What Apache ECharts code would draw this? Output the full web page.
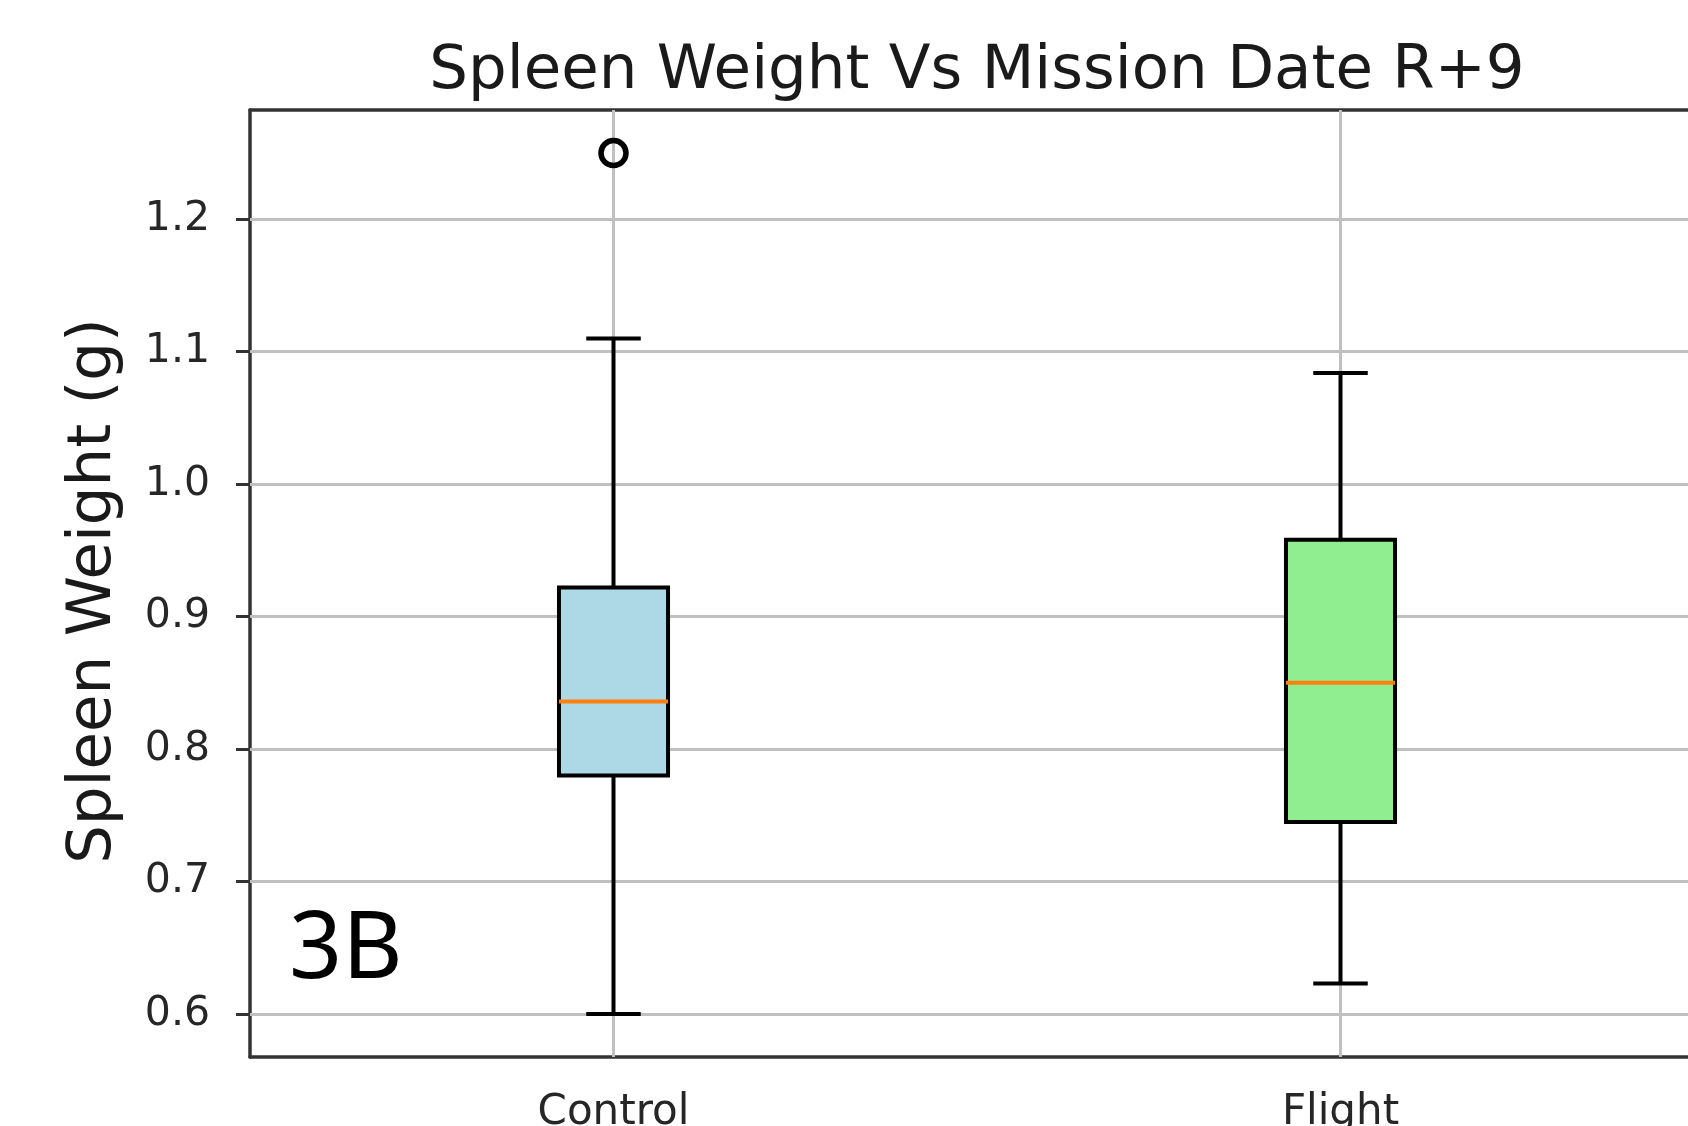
<!DOCTYPE html>
<html>
<head>
<meta charset="utf-8">
<title>Spleen Weight Vs Mission Date R+9</title>
<script src="https://cdn.jsdelivr.net/npm/echarts@6/dist/echarts.min.js"></script>
<style>
  html, body { margin: 0; padding: 0; background: #fff; }
  #chart { width: 1688px; height: 1126px; }
</style>
</head>
<body>
<div id="chart"></div>
<script>
// groups and box stats: [low whisker, q1, median, q3, high whisker]
const categories = ['Control', 'Flight'];
const controlStats = [0.600, 0.780, 0.836, 0.922, 1.110];
const flightStats = [0.623, 0.745, 0.850, 0.958, 1.084];
const controlOutliers = [1.25];
const yTicks = [0.6, 0.7, 0.8, 0.9, 1.0, 1.1, 1.2];
const boxColors = ['#add8e6', '#90ee90'];

const yMin = 0.5675;
const yMax = 1.2825;
const font = 'DejaVu Sans';

let chart = echarts.init(document.getElementById('chart'));

let boxData = [
  [0].concat(controlStats),
  [1].concat(flightStats)
];

let option = {
  backgroundColor: '#fff',
  animation: false,
  title: {
    text: 'Spleen Weight Vs Mission Date R+9',
    left: 977,
    top: 42,
    padding: 0,
    textAlign: 'center',
    textStyle: { fontFamily: font, fontSize: 61, fontWeight: 'normal', color: '#1a1a1a' }
  },
  graphic: [
    {
      type: 'text',
      left: 289,
      top: 905,
      style: { text: '3B', fontFamily: 'Noto Sans', fontSize: 93, fill: '#000' }
    }
  ],
  // plot runs past the right edge of the canvas, like the cropped original
  grid: { left: 250, top: 110, width: 1454, height: 947, outerBoundsMode: 'none', containLabel: false },
  xAxis: [
    {
      type: 'category',
      data: categories,
      axisLine: { lineStyle: { color: '#333', width: 3.5 } },
      axisTick: { alignWithLabel: true, length: 16, lineStyle: { color: '#333', width: 3 } },
      axisLabel: { margin: 35, fontFamily: font, fontSize: 42, color: '#262626' },
      splitLine: { show: false }
    },
    {
      type: 'category',
      position: 'top',
      data: categories,
      axisLine: { lineStyle: { color: '#333', width: 3.5 } },
      axisTick: { show: false },
      axisLabel: { show: false }
    }
  ],
  yAxis: {
    type: 'value',
    min: yMin,
    max: yMax,
    name: 'Spleen Weight (g)',
    nameLocation: 'middle',
    nameGap: 125,
    nameTextStyle: { fontFamily: font, fontSize: 61, color: '#1a1a1a', padding: [0, 15, 0, 0] },
    axisLine: { show: true, lineStyle: { color: '#333', width: 3.5 } },
    axisTick: { show: true, length: 14, customValues: yTicks, lineStyle: { color: '#333', width: 3 } },
    axisLabel: {
      margin: 40,
      customValues: yTicks,
      fontFamily: font,
      fontSize: 41,
      color: '#262626',
      formatter: v => v.toFixed(1)
    },
    splitLine: { show: false }
  },
  series: [
    {
      // grid lines, drawn under the boxes
      type: 'line',
      data: [],
      z: 1,
      silent: true,
      markLine: {
        z: 1,
        silent: true,
        symbol: 'none',
        label: { show: false },
        lineStyle: { color: '#c0c0c0', width: 3, type: 'solid' },
        data: yTicks.map(v => ({ yAxis: v })).concat(categories.map(c => ({ xAxis: c })))
      }
    },
    {
      type: 'custom',
      z: 10,
      data: boxData,
      encode: { x: 0, y: [1, 2, 3, 4, 5] },
      renderItem: function(params, api) {
        let idx = api.value(0);
        let low = api.coord([idx, api.value(1)]);
        let q1 = api.coord([idx, api.value(2)]);
        let med = api.coord([idx, api.value(3)]);
        let q3 = api.coord([idx, api.value(4)]);
        let high = api.coord([idx, api.value(5)]);
        let bw = api.size([1, 0])[0] * 0.15;
        let cx = low[0];
        let cap = bw / 2;
        let line = (x1, y1, x2, y2, color, w) => ({
          type: 'line',
          shape: { x1: x1, y1: y1, x2: x2, y2: y2 },
          style: { stroke: color, lineWidth: w }
        });
        return {
          type: 'group',
          children: [
            line(cx, low[1], cx, q1[1], '#000', 4),
            line(cx, q3[1], cx, high[1], '#000', 4),
            line(cx - cap / 2, low[1], cx + cap / 2, low[1], '#000', 4),
            line(cx - cap / 2, high[1], cx + cap / 2, high[1], '#000', 4),
            {
              type: 'rect',
              shape: { x: cx - bw / 2, y: q3[1], width: bw, height: q1[1] - q3[1] },
              style: { fill: boxColors[idx], stroke: '#000', lineWidth: 4 }
            },
            line(cx - bw / 2, med[1], cx + bw / 2, med[1], '#ff7f0e', 4)
          ]
        };
      }
    },
    {
      type: 'scatter',
      z: 11,
      symbol: 'circle',
      symbolSize: 25,
      data: controlOutliers.map(v => ['Control', v]),
      itemStyle: { color: 'rgba(0,0,0,0)', borderColor: '#000', borderWidth: 5.5, opacity: 1 }
    }
  ]
};

chart.setOption(option);
</script>
</body>
</html>
